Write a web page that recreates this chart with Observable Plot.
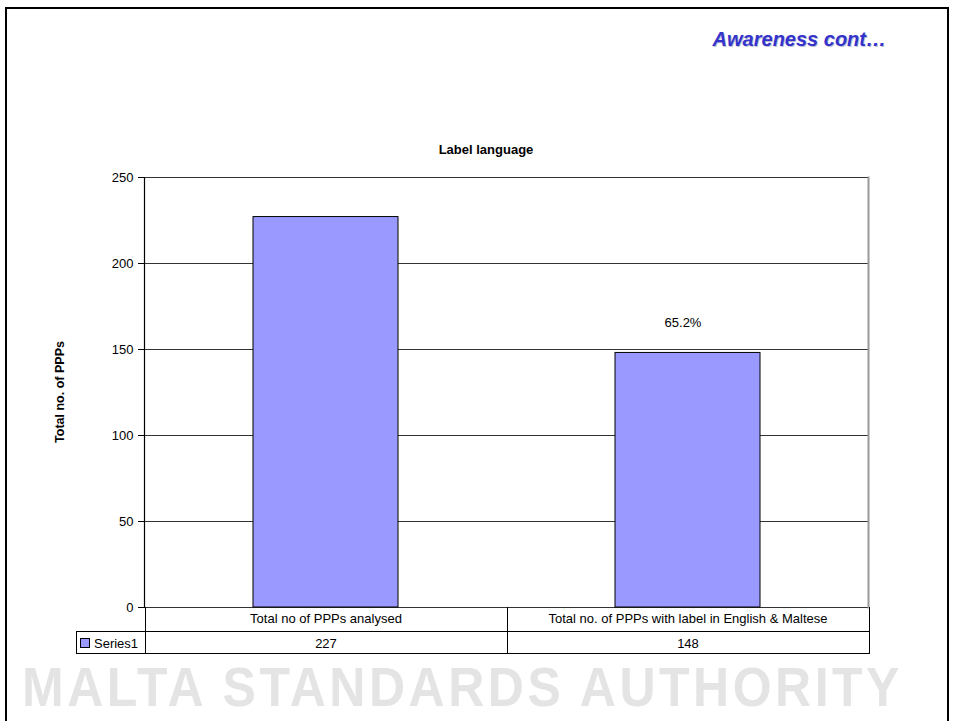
<!DOCTYPE html>
<html>
<head>
<meta charset="utf-8">
<script src="https://cdn.jsdelivr.net/npm/d3@7"></script>
<script src="https://cdn.jsdelivr.net/npm/@observablehq/plot@0.6"></script>
<style>
  html, body { margin: 0; padding: 0; background: #fff; }
  #wrap { position: relative; width: 954px; height: 721px; overflow: hidden; background: #fff;
          font-family: "Liberation Sans", Arial, sans-serif; color: #000; }
  .abs { position: absolute; }
  #frame { left: 5px; top: 7px; width: 944px; height: 760px; border: 2px solid #000; box-sizing: border-box; }
  #slideTitle { right: 68px; top: 28px; font-size: 20px; font-weight: bold; font-style: italic; color: #3333cc;
                text-shadow: 1px 1px 0 rgba(0,0,80,0.25); white-space: nowrap; }
  #chartTitle { left: 0; width: 972px; top: 142px; text-align: center; font-size: 13px; font-weight: bold; }
  #ylabel { left: 60px; top: 392px; font-size: 12.5px; font-weight: bold; white-space: nowrap;
            transform: translate(-50%, -50%) rotate(-90deg); }
  #watermark { left: 22px; top: 660px; font-size: 50px; line-height: 1; font-weight: bold; letter-spacing: 3.5px; color: #e4e4e4;
               white-space: nowrap; transform: scaleY(1.1); transform-origin: left top; }
  #plot { left: 0; top: 0; }
  .cell { position: absolute; box-sizing: border-box; font-size: 13px; text-align: center; white-space: nowrap; }
</style>
</head>
<body>
<div id="wrap">
  <div id="watermark" class="abs">MALTA STANDARDS AUTHORITY</div>
  <div id="frame" class="abs"></div>
  <div id="slideTitle" class="abs">Awareness cont…</div>
  <div id="chartTitle" class="abs">Label language</div>
  <div id="ylabel" class="abs">Total no. of PPPs</div>
  <div id="plot" class="abs"></div>
  <div id="table"></div>
</div>
<script>
// ---- data ----
const categories = ["Total no of PPPs analysed", "Total no. of PPPs with label in English & Maltese"];
const values = [227, 148];
const seriesName = "Series1";
const barLabels = ["", "65.2%"];
const yTicks = [0, 50, 100, 150, 200, 250];

const rows = categories.map((c, i) => ({category: c, value: values[i], label: barLabels[i]}));

const W = 954, H = 721;
const chart = Plot.plot({
  width: W, height: H,
  marginLeft: 144, marginRight: 86, marginTop: 177, marginBottom: 114,
  style: {background: "transparent", fontFamily: "'Liberation Sans', Arial, sans-serif", fontSize: "13px", color: "#000", overflow: "visible"},
  x: {domain: categories, paddingInner: 0.6, paddingOuter: 0.3, axis: null},
  y: {domain: [0, 250], ticks: yTicks},
  marks: [
    Plot.gridY(yTicks, {stroke: "#333", strokeOpacity: 1, strokeWidth: 1}),
    Plot.frame({anchor: "right", stroke: "#999", strokeWidth: 2}),
    Plot.barY(rows, {x: "category", y: "value", fill: "#9999ff", stroke: "#000", strokeWidth: 1}),
    Plot.text(rows, {x: "category", y: "value", text: "label", dy: -30, dx: -5, fontSize: 13, fill: "#000"}),
    Plot.axisY({ticks: yTicks, tickSize: 6, tickPadding: 5, label: null, fontSize: 13, stroke: "#000"}),
    Plot.frame({anchor: "left", stroke: "#000", strokeWidth: 1.2})
  ]
});
document.getElementById("plot").appendChild(chart);

// ---- data table under the plot, aligned on the band scale ----
const xs = chart.scale("x");
const ys = chart.scale("y");
const step = xs.step;
const y0 = ys.apply(0);
const row1Top = y0, row1H = 23.5, row2Top = y0 + row1H, row2H = 22;
const legendLeft = 76;
const table = document.getElementById("table");
function cell(left, top, width, height, html, extra) {
  const d = document.createElement("div");
  d.className = "cell";
  Object.assign(d.style, {left: left + "px", top: top + "px", width: width + "px", height: height + "px",
    lineHeight: height + "px", border: "1px solid #000"}, extra || {});
  d.innerHTML = html;
  table.appendChild(d);
  return d;
}
const firstLeft = xs.apply(categories[0]) + xs.bandwidth / 2 - step / 2;
categories.forEach((c, i) => {
  const left = xs.apply(c) + xs.bandwidth / 2 - step / 2;
  cell(left, row1Top, step + 1, row1H + 1, c, {borderTop: "none"});
  cell(left, row2Top, step + 1, row2H + 1, String(values[i]));
});
cell(legendLeft, row2Top, firstLeft - legendLeft + 1, row2H + 1,
  '<span style="display:inline-block;width:8px;height:8px;background:#9999ff;border:1px solid #000;margin-right:4px;vertical-align:middle;position:relative;top:-1px"></span>' + seriesName,
  {textAlign: "left", paddingLeft: "3px"});
</script>
</body>
</html>
